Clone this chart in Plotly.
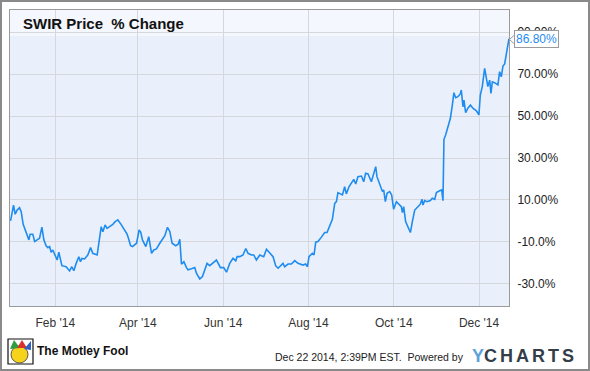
import pandas as pd
import plotly.graph_objects as go

# ---- data ----
# days since 2013-12-31 and % change of SWIR price
days = [0, 2.1, 3.3, 4.7, 6.4, 7.6, 9.0, 10.4, 11.9, 13.1, 14.0, 15.9, 17.2, 20.7, 22.4, 23.8,
        25.4, 26.7, 27.9, 29.0, 30.2, 32.2, 33.3, 34.5, 35.7, 36.7, 39.7, 42.2, 43.8, 45.2,
        46.9, 48.8, 50.0, 51.0, 52.9, 55.2, 57.2, 58.8, 61.9, 62.9, 64.8, 66.0, 67.6, 69.0,
        70.8, 73.1, 74.8, 76.7, 79.0, 81.0, 83.3, 84.3, 85.8, 87.2, 90.1, 91.9, 93.1, 94.3,
        96.7, 98.8, 100.8, 102.4, 104.3, 106.7, 110.3, 112.2, 113.9, 115.5, 118.1, 119.8,
        121.0, 122.2, 123.9, 125.8, 126.9, 129.4, 131.7, 132.9, 135.3, 137.2, 138.9, 140.5,
        142.4, 144.4, 147.2, 150.1, 152.4, 154.4, 156.7, 159.1, 161.0, 162.0, 163.9, 166.2,
        168.2, 169.8, 172.2, 173.9, 175.8, 178.2, 181.0, 183.0, 185.3, 187.7, 189.6, 191.3,
        194.8, 196.0, 198.4, 200.8, 203.2, 205.5, 209.1, 211.0, 212.3, 213.4, 215.8, 217.0,
        218.2, 219.8, 222.3, 224.6, 226.3, 228.2, 230.1, 231.8, 233.0, 234.1, 235.9, 237.3,
        238.9, 240.1, 242.0, 243.7, 245.4, 246.8, 248.4, 250.9, 252.5, 253.9, 255.6, 258.0,
        259.7, 261.1, 262.0, 263.9, 265.9, 266.8, 268.0, 269.2, 271.1, 272.5, 273.9, 275.9,
        277.7, 279.4, 280.2, 281.1, 282.5, 284.2, 285.9, 287.3, 289.0, 291.3, 293.0, 294.2,
        294.9, 296.1, 297.8, 300.2, 301.6, 303.3, 304.5, 306.8, 308.3, 309.2, 309.9, 311.1,
        312.8, 314.5, 315.9, 317.0, 318.3, 319.9, 321.6, 322.3, 323.5, 324.2, 325.4, 327.0,
        328.8, 330.6, 333.1, 334.9, 335.9, 337.3, 339.0, 340.2, 341.3, 342.6, 343.5, 344.5,
        346.1, 348.5, 349.7, 350.9, 352.1, 353.3, 354.9, 356.4]
pct_change = [0.0, 7.6, 3.2, 5.2, 6.3, 4.4, -1.6, -4.3, -6.7, -9.0, -6.3, -6.3, -9.8, -8.2, -2.9, -9.0,
              -11.8, -12.7, -12.2, -14.9, -13.8, -17.0, -18.6, -14.9, -17.8, -21.3, -21.8, -23.8, -21.8, -23.7,
              -20.2, -17.0, -19.4, -17.8, -18.1, -16.2, -12.7, -15.4, -16.2, -11.4, -2.7, -5.1, -1.9, -3.5,
              -2.7, -1.6, -0.3, 0.5, -1.6, -3.5, -6.3, -8.2, -11.8, -12.2, -10.6, -4.3, -5.4, -9.0,
              -12.2, -7.5, -15.4, -13.8, -13.3, -10.6, -7.0, -3.0, -5.1, -10.6, -11.8, -11.1,
              -8.7, -20.6, -19.4, -22.2, -23.3, -22.8, -22.2, -24.9, -27.6, -26.5, -23.3, -20.2,
              -21.3, -20.2, -18.6, -22.2, -22.2, -24.4, -20.2, -17.8, -19.0, -17.0, -17.0, -16.2,
              -13.1, -15.4, -16.2, -16.2, -18.6, -16.2, -17.0, -13.5, -15.4, -17.0, -21.4, -22.5,
              -20.2, -21.8, -20.5, -20.5, -18.9, -20.2, -21.0, -20.5, -21.8, -17.0, -15.4, -16.2,
              -10.1, -9.8, -7.7, -5.5, -5.5, -1.9, 0.8, 8.4, 9.2, 13.5, 12.9, 12.4,
              16.3, 12.9, 16.3, 18.2, 19.8, 17.6, 21.1, 21.4, 18.7, 22.7, 22.4, 18.7,
              22.4, 25.9, 21.1, 18.0, 14.0, 14.8, 9.2, 13.2, 14.0, 12.4, 5.6, 9.2,
              8.1, 6.8, 4.0, 6.8, -0.3, -2.7, -5.5, -0.3, 5.2, 6.8, 8.0, 10.3,
              7.6, 9.7, 9.2, 9.7, 10.8, 10.3, 13.5, 14.4, 14.8, 9.7, 38.9, 41.0,
              45.3, 48.9, 55.2, 61.1, 58.7, 59.2, 60.5, 62.4, 54.4, 57.6, 51.6, 53.7,
              55.2, 53.7, 52.5, 50.5, 60.0, 64.0, 72.7, 68.7, 64.0, 67.1, 60.8, 66.3,
              65.9, 64.8, 71.1, 68.7, 73.8, 74.8, 80.6, 86.8]

y_tick_vals = [90, 70, 50, 30, 10, -10, -30]
y_tick_text = ["90.00%", "70.00%", "50.00%", "30.00%", "10.00%", "-10.0%", "-30.0%"]
x_tick_vals = ["2014-02-01", "2014-04-01", "2014-06-01", "2014-08-01", "2014-10-01", "2014-12-01"]
x_tick_text = ["Feb '14", "Apr '14", "Jun '14", "Aug '14", "Oct '14", "Dec '14"]
last_label = "86.80%"

start = pd.Timestamp("2013-12-31")
dates = start + pd.to_timedelta(days, unit="D")

W, H = 590, 371
L, R, T, B = 10, 81, 10, 65
PW, PH = W - L - R, H - T - B


def px(x):
    return (x - L) / PW


def py(y):
    return (H - B - y) / PH


FONT = "Liberation Sans, Arial, sans-serif"
LINE = "#1f8cf0"

fig = go.Figure()
fig.add_trace(go.Scatter(x=dates, y=pct_change, mode="lines",
                         line=dict(color=LINE, width=1.6), hoverinfo="skip",
                         showlegend=False))

shapes = [
    # lighter header band
    dict(type="rect", xref="paper", yref="paper", x0=0, x1=1, y0=py(36), y1=1,
         fillcolor="#f4f7fd", line=dict(width=0), layer="below"),
    # outer frame
    dict(type="rect", xref="paper", yref="paper", x0=px(1), x1=px(589), y0=py(370), y1=py(1),
         line=dict(color="#8a8a8a", width=2), fillcolor="rgba(0,0,0,0)"),
    # callout pointer
    dict(type="path", xref="paper", yref="paper",
         path=f"M {px(514.5)} {py(35)} L {px(509.5)} {py(39.5)} L {px(514.5)} {py(44)}",
         fillcolor="white", line=dict(color="#9a9a9a", width=1)),
    # simple jester logo
    dict(type="rect", xref="paper", yref="paper", x0=px(8), x1=px(33), y0=py(364), y1=py(339),
         fillcolor="white", line=dict(color="#111", width=1.2)),
    dict(type="circle", xref="paper", yref="paper", x0=px(11), x1=px(28), y0=py(363), y1=py(346),
         fillcolor="#f6d21b", line=dict(color="#333", width=0.8)),
    dict(type="path", xref="paper", yref="paper",
         path=f"M {px(10)} {py(349)} L {px(14)} {py(340)} L {px(20)} {py(348)} Z",
         fillcolor="#2e9e3e", line=dict(width=0)),
    dict(type="path", xref="paper", yref="paper",
         path=f"M {px(17)} {py(348)} L {px(22)} {py(340)} L {px(27)} {py(348)} Z",
         fillcolor="#d9312b", line=dict(width=0)),
    dict(type="path", xref="paper", yref="paper",
         path=f"M {px(24)} {py(349)} L {px(31)} {py(341)} L {px(31)} {py(350)} Z",
         fillcolor="#2f5fc4", line=dict(width=0)),
]

annotations = [
    dict(text="<b>SWIR Price  % Change</b>", xref="paper", yref="paper",
         x=px(21), y=py(24), xanchor="left", yanchor="middle", showarrow=False,
         font=dict(family=FONT, size=15, color="#111")),
    dict(text=last_label, xref="paper", yref="y", x=px(514), y=pct_change[-1],
         xanchor="left", yanchor="middle", showarrow=False,
         font=dict(family=FONT, size=12, color=LINE),
         bgcolor="white", bordercolor="#9a9a9a", borderwidth=1, borderpad=1),
    dict(text="<b>The Motley Fool</b>", xref="paper", yref="paper",
         x=px(35), y=py(351), xanchor="left", yanchor="middle", showarrow=False,
         font=dict(family=FONT, size=12, color="#111")),
    dict(text="Dec 22 2014, 2:39PM EST.  Powered by", xref="paper", yref="paper",
         x=px(466), y=py(357), xanchor="right", yanchor="middle", showarrow=False,
         font=dict(family=FONT, size=10.5, color="#222")),
    dict(text="<b><span style='color:#5ea2da'>Y</span><span style='letter-spacing:3px'>CHARTS</span></b>",
         xref="paper", yref="paper",
         x=px(470), y=py(356), xanchor="left", yanchor="middle", showarrow=False,
         font=dict(family=FONT, size=18, color="#343e49")),
]

fig.update_layout(
    width=W, height=H,
    margin=dict(l=L, r=R, t=T, b=B, pad=0),
    paper_bgcolor="white", plot_bgcolor="#eaf0fb",
    font=dict(family=FONT),
    shapes=shapes, annotations=annotations,
    xaxis=dict(range=["2013-12-30 14:00", "2014-12-22 10:00"],
               tickvals=x_tick_vals, ticktext=x_tick_text,
               showgrid=True, gridcolor="#d5d7da", gridwidth=1,
               showline=True, linecolor="#9a9a9a", linewidth=1, mirror=True,
               ticks="", ticklabelstandoff=6, zeroline=False,
               tickfont=dict(family=FONT, size=12, color="#333")),
    yaxis=dict(range=[-40.5, 100.5], side="right",
               tickvals=y_tick_vals, ticktext=y_tick_text,
               showgrid=True, gridcolor="#d5d7da", gridwidth=1,
               showline=True, linecolor="#9a9a9a", linewidth=1, mirror=True,
               ticks="", ticklabelstandoff=5, zeroline=False,
               tickfont=dict(family=FONT, size=12, color="#222")),
)

fig.write_html("out.html")
